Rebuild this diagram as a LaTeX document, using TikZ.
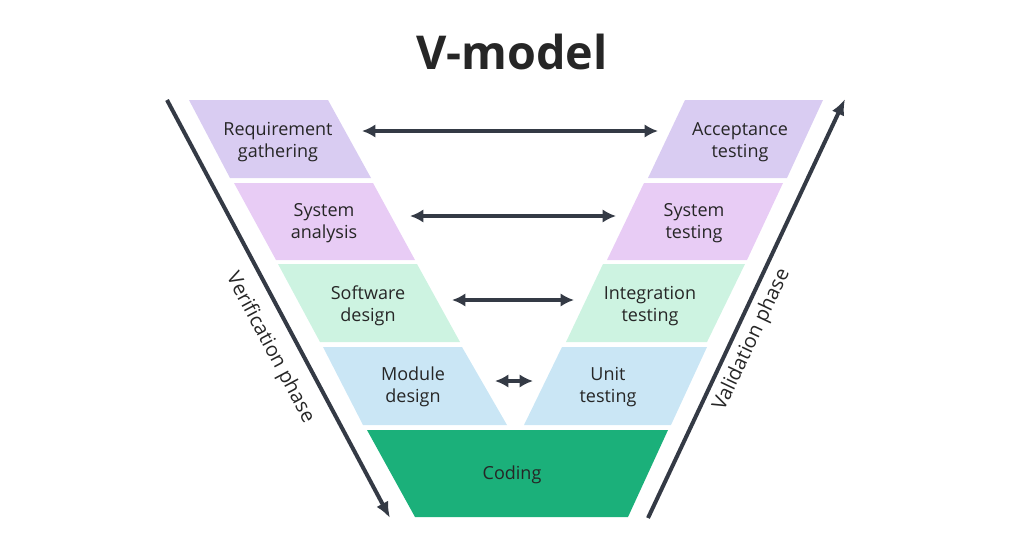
\documentclass[tikz,border=0pt]{standalone}
\usepackage{fontspec}
\setmainfont{Open Sans}
\usetikzlibrary{arrows.meta}
\begin{document}
\begin{tikzpicture}[x=0.75pt,y=-0.75pt,
  lbl/.style={align=center,font=\fontsize{13.5}{16.5}\selectfont,text=black!85},
  link/.style={line width=3pt,draw=arrowc,{Latex[length=10pt,width=10pt]}-{Latex[length=10pt,width=10pt]}},
  phase/.style={line width=3pt,draw=arrowc,-{Latex[length=12pt,width=10pt]}}]
\useasboundingbox (0,0) rectangle (1024,554);
\definecolor{c1}{HTML}{D9CCF2}
\definecolor{c2}{HTML}{E8CCF5}
\definecolor{c3}{HTML}{CDF3E1}
\definecolor{c4}{HTML}{CAE6F5}
\definecolor{c5}{HTML}{1BB07A}
\definecolor{arrowc}{HTML}{343A45}
\node[font=\fontsize{35}{38}\selectfont\bfseries,text=black!85] (title) at (512,52) {V-model};
% left
\fill[c1] (189,100) -- (328,100) -- (371,178) -- (230,178) -- cycle;
\fill[c2] (234,183) -- (373,183) -- (415,260) -- (276,260) -- cycle;
\fill[c3] (278,264) -- (417,264) -- (460,342) -- (320,342) -- cycle;
\fill[c4] (323,347) -- (462,347) -- (507,425) -- (363,425) -- cycle;
% right
\fill[c1] (685,100) -- (823,100) -- (787,178) -- (648,178) -- cycle;
\fill[c2] (644,183) -- (783,183) -- (747,260) -- (607,260) -- cycle;
\fill[c3] (603,264) -- (745,264) -- (707,342) -- (566,342) -- cycle;
\fill[c4] (562,347) -- (707,347) -- (671,425) -- (524,425) -- cycle;
% coding
\fill[c5] (367,430) -- (668,430) -- (628,517) -- (415,517) -- cycle;
\node[lbl] (l1) at (278,142) {Requirement\\gathering};
\node[lbl] (l2) at (324,223) {System\\analysis};
\node[lbl] (l3) at (368,306) {Software\\design};
\node[lbl] (l4) at (413,387) {Module\\design};
\node[lbl] (r1) at (740,142) {Acceptance\\testing};
\node[lbl] (r2) at (694,223) {System\\testing};
\node[lbl] (r3) at (650,306) {Integration\\testing};
\node[lbl] (r4) at (608,387) {Unit\\testing};
\node[lbl] (cod) at (512,475) {Coding};
\coordinate (a1) at (362,131); \coordinate (b1) at (658,131);
\coordinate (a2) at (410,216); \coordinate (b2) at (616,216);
\coordinate (a3) at (452,300); \coordinate (b3) at (574,300);
\coordinate (a4) at (495,381); \coordinate (b4) at (533,381);
\draw[link] (a1) -- (b1);
\draw[link] (a2) -- (b2);
\draw[link] (a3) -- (b3);
\draw[link] (a4) -- (b4);
\coordinate (vs) at (167,100); \coordinate (ve) at (390,518);
\coordinate (ws) at (648,518); \coordinate (we) at (845,99);
\draw[phase] (vs) -- (ve);
\draw[phase] (ws) -- (we);
\node[lbl,font=\fontsize{15}{18}\selectfont,rotate=-62] (ver) at (270,348) {Verification phase};
\node[lbl,font=\fontsize{15}{18}\selectfont,rotate=64.8] (val) at (752,340) {Validation phase};
\end{tikzpicture}
\end{document}
